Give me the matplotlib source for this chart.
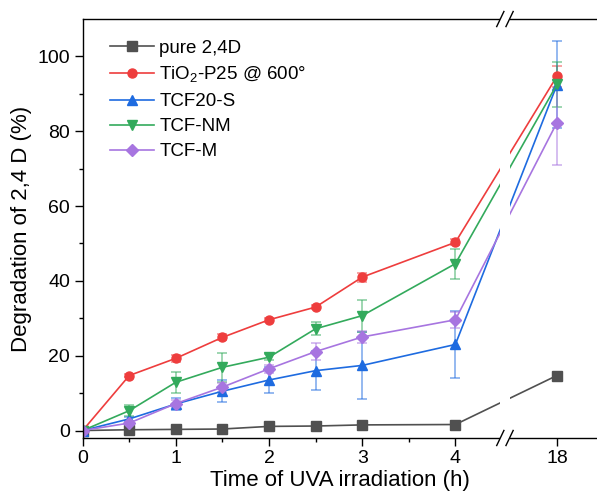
import numpy as np
import matplotlib
matplotlib.use('Agg')
import matplotlib.pyplot as plt
from matplotlib.patches import Rectangle

plt.rcParams['font.family'] = ['Liberation Sans', 'DejaVu Sans']
plt.rcParams['mathtext.fontset'] = 'custom'
plt.rcParams['mathtext.rm'] = 'Liberation Sans'

# data
time = [0, 0.5, 1, 1.5, 2, 2.5, 3, 4, 18]

pure = [0, 0.2, 0.3, 0.4, 1.1, 1.2, 1.5, 1.6, 14.7]
pure_err = [0, 0.2, 0.2, 0.2, 0.3, 0.3, 0.3, 0.3, 0.5]

tio2 = [0, 14.7, 19.3, 24.9, 29.6, 33.0, 41.0, 50.3, 94.7]
tio2_err = [0, 0.5, 1.0, 0.8, 0.6, 0.6, 1.2, 0.8, 2.8]

tcf20s = [0, 3.1, 7.1, 10.5, 13.5, 16.0, 17.4, 23.0, 92.4]
tcf20s_err = [0, 0.5, 1.6, 3.0, 3.5, 5.3, 9.0, 9.0, 11.6]

tcfnm = [0, 5.3, 12.9, 16.9, 19.6, 27.2, 30.7, 44.6, 92.5]
tcfnm_err = [0, 1.5, 2.8, 3.9, 0.8, 1.8, 4.3, 4.0, 6.0]

tcfm = [0, 2.0, 7.2, 11.6, 16.5, 21.1, 25.0, 29.6, 82.3]
tcfm_err = [0, 0.5, 1.0, 1.2, 1.0, 2.3, 1.5, 2.2, 11.3]

series = [
    ('pure 2,4D', pure, pure_err, '#505050', 's'),
    ('TiO$_2$-P25 @ 600°', tio2, tio2_err, '#ee3d3d', 'o'),
    ('TCF20-S', tcf20s, tcf20s_err, '#1e6be0', '^'),
    ('TCF-NM', tcfnm, tcfnm_err, '#33aa5c', 'v'),
    ('TCF-M', tcfm, tcfm_err, '#a775e0', 'D'),
]

# broken x axis: 0-4.5 linear, then compressed
K = 0.0437
def fwd(t):
    t = np.asarray(t, dtype=float)
    return np.where(t <= 4.5, t, 4.5 + (t - 4.5) * K)

def inv(u):
    u = np.asarray(u, dtype=float)
    return np.where(u <= 4.5, u, 4.5 + (u - 4.5) / K)

fig = plt.figure(figsize=(5.97, 4.98), dpi=100)
ax = fig.add_axes([0.1385, 0.1205, 0.8615, 0.8413])
ax.set_xscale('function', functions=(fwd, inv))

handles = []
labels = []
for label, y, err, c, m in series:
    ms = 6 if m == 'D' else 6.5
    cont = ax.errorbar(time, y, yerr=err, color=c, marker=m, markersize=ms,
                       linewidth=1.2, elinewidth=1.1, capsize=3.5, capthick=1.1,
                       ecolor=matplotlib.colors.to_rgba(c, 0.6))
    handles.append(cont[0])
    labels.append(label)

ax.set_xlim(0, float(inv(5.52)))
ax.set_ylim(-2, 110)
ax.set_xticks([0, 1, 2, 3, 4, 18])
ax.set_xticklabels(['0', '1', '2', '3', '4', '18'])
ax.set_xticks([0.5, 1.5, 2.5, 3.5], minor=True)
ax.set_yticks([0, 20, 40, 60, 80, 100])
ax.set_yticks([10, 30, 50, 70, 90], minor=True)
ax.tick_params(which='major', direction='out', length=5.5, width=1, labelsize=14)
ax.tick_params(which='minor', direction='out', length=3, width=1)
ax.spines['right'].set_visible(False)
for s in ['left', 'bottom', 'top']:
    ax.spines[s].set_linewidth(1.0)

# break marks
x0, x1 = 0.812, 0.830
ax.add_patch(Rectangle((x0, -0.05), x1 - x0, 1.1, transform=ax.transAxes,
                       facecolor='white', edgecolor='none', zorder=10, clip_on=False))
dx, dy = 0.007, 0.018
for yy in [0, 1]:
    for xx in [x0, x1]:
        ax.plot([xx - dx, xx + dx], [yy - dy, yy + dy], color='black', linewidth=1.0,
                transform=ax.transAxes, clip_on=False, zorder=11)

ax.set_xlabel('Time of UVA irradiation (h)', fontsize=16, labelpad=2)
ax.set_ylabel('Degradation of 2,4 D (%)', fontsize=16, labelpad=4)

ax.legend(handles, labels, loc='upper left', bbox_to_anchor=(0.038, 0.968), frameon=False,
          fontsize=13.5, handlelength=2.35, handletextpad=0.3, labelspacing=0.42,
          borderaxespad=0)

plt.savefig('out.png', dpi=100)
